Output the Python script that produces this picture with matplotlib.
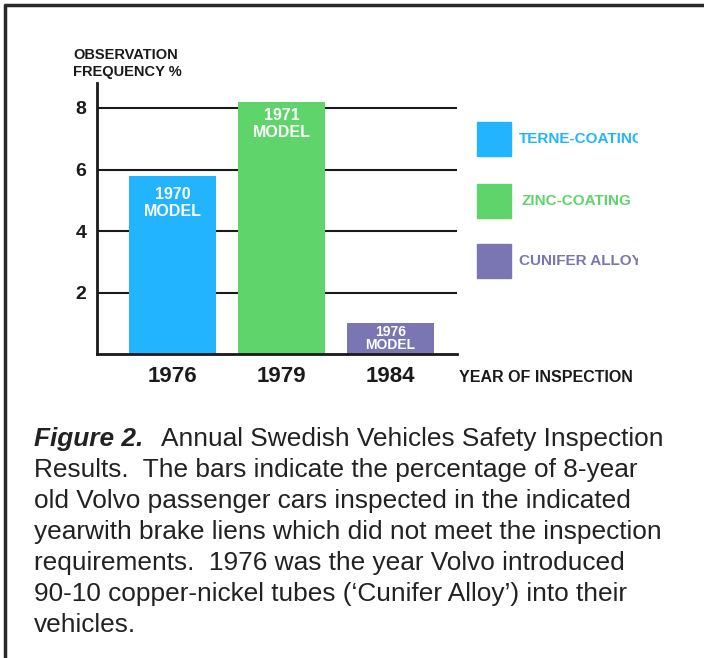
import numpy as np
import matplotlib
matplotlib.use("Agg")
import matplotlib.pyplot as plt
from matplotlib.patches import Rectangle
from matplotlib.transforms import Bbox

# ---------------------------------------------------------------------------
# Datos
# ---------------------------------------------------------------------------
years = ["1976", "1979", "1984"]
freq = [5.8, 8.2, 1.0]
model_labels = ["1970\nMODEL", "1971\nMODEL", "1976\nMODEL"]
coatings = ["TERNE-COATING", "ZINC-COATING", "CUNIFER ALLOY"]
colors = ["#22B4FF", "#5FD46A", "#7A76B4"]
y_ticks = [2, 4, 6, 8]

caption_lines = [
    "Annual Swedish Vehicles Safety Inspection",
    "Results.  The bars indicate the percentage of 8-year",
    "old Volvo passenger cars inspected in the indicated",
    "yearwith brake liens which did not meet the inspection",
    "requirements.  1976 was the year Volvo introduced",
    "90-10 copper-nickel tubes (\u2018Cunifer Alloy\u2019) into their",
    "vehicles.",
]

plt.rcParams['font.family'] = ['Liberation Sans', 'DejaVu Sans']

W, H = 704, 658
fig = plt.figure(figsize=(W / 100, H / 100), dpi=100)

# capa de fondo en pixeles (marco, leyenda, pie de figura)
bg = fig.add_axes([0, 0, 1, 1])
bg.set_xlim(0, W)
bg.set_ylim(H, 0)
bg.axis("off")

# marco superior e izquierdo
bg.plot([4, W], [4.5, 4.5], color="#2a2a2a", lw=2.5, solid_capstyle="butt")
bg.plot([4.5, 4.5], [4, H], color="#2a2a2a", lw=2.5, solid_capstyle="butt")

# ---------------------------------------------------------------------------
# Grafico de barras
# ---------------------------------------------------------------------------
ax_l, ax_r = 97, 457
ax_b, ax_t = 354, 83.4
ax = fig.add_axes([ax_l / W, (H - ax_b) / H, (ax_r - ax_l) / W, (ax_b - ax_t) / H])
ax.patch.set_alpha(0)

x = np.arange(len(years))
for yv in y_ticks:
    ax.axhline(yv, color="#1a1a1a", lw=1.5, zorder=1)
bars = ax.bar(x, freq, width=0.8, color=colors, zorder=2)

label_size = [11.5, 11.5, 10]
label_space = [1.15, 1.15, 0.95]
label_off = [0.36, 0.2, 0.05]
for i, b in enumerate(bars):
    ax.text(b.get_x() + b.get_width() / 2, b.get_height() - label_off[i], model_labels[i],
            ha="center", va="top", color="white", fontsize=label_size[i],
            fontweight="bold", linespacing=label_space[i], zorder=3)

ax.set_xlim(-0.693, 2.61)
ax.set_ylim(0, 8.8)
ax.set_yticks(y_ticks)
ax.set_yticklabels([str(v) for v in y_ticks], fontsize=14, fontweight="bold")
ax.set_xticks(x)
ax.set_xticklabels(years, fontsize=16, fontweight="bold")
ax.tick_params(axis="both", length=0, colors="#1a1a1a")
ax.tick_params(axis="y", pad=7.5)
ax.tick_params(axis="x", pad=9)
for s in ["top", "right"]:
    ax.spines[s].set_visible(False)
ax.spines["left"].set_linewidth(2)
ax.spines["bottom"].set_linewidth(2)
ax.spines["left"].set_color("#1a1a1a")
ax.spines["bottom"].set_color("#1a1a1a")

bg.text(73, 63.5, "OBSERVATION\nFREQUENCY %", fontsize=10.5, fontweight="bold",
        va="center", ha="left", linespacing=1.25, color="#1a1a1a")
bg.text(459, 377, "YEAR OF INSPECTION", fontsize=11.5, fontweight="bold",
        va="center", ha="left", color="#1a1a1a")

# ---------------------------------------------------------------------------
# Leyenda (texto recortado en el borde derecho)
# ---------------------------------------------------------------------------
clip = Bbox.from_extents(0, 0, 638, H)
leg_y = [139, 201, 261]
for i, name in enumerate(coatings):
    bg.add_patch(Rectangle((477, leg_y[i] - 17), 34, 34, color=colors[i]))
    t = bg.text(519 + (3 if i == 1 else 0), leg_y[i], name, fontsize=11, fontweight="bold",
                color=colors[i], va="center", ha="left")
    t.set_clip_box(clip)
    t.set_clip_on(True)

# ---------------------------------------------------------------------------
# Pie de figura
# ---------------------------------------------------------------------------
cap_fs = 18.9
base_y = [446, 477, 508, 539, 570, 601, 632]
fig_lbl = bg.text(34, base_y[0], "Figure 2.", fontsize=cap_fs, fontweight="bold",
                  fontstyle="italic", va="baseline", ha="left", color="#222222")
fig.canvas.draw()
x_end = fig_lbl.get_window_extent().x1
for i, line in enumerate(caption_lines):
    x0 = x_end + 18 if i == 0 else 34
    bg.text(x0, base_y[i], line, fontsize=cap_fs, va="baseline", ha="left", color="#222222")

fig.savefig("out.png", dpi=100)
